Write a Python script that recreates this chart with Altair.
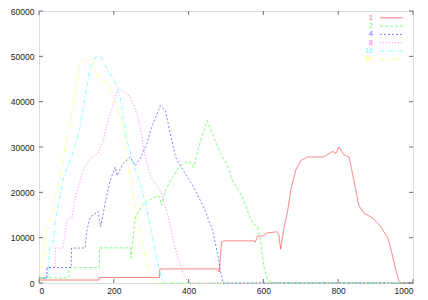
import altair as alt
import pandas as pd

series_names = ["1", "2", "4", "8", "16", "32"]
series_colors = ["#ff0000", "#00ff00", "#0000ff", "#ff00ff", "#00ffff", "#ffff00"]
series_dashes = [[1, 0], [3, 2], [2, 2], [1, 2], [4, 2, 1, 2], [4, 2, 1, 2, 1, 2]]

s1_x = [0, 160, 161, 322, 323, 478, 482, 488, 495, 574, 578, 584, 598, 611, 636, 641, 646, 654, 665, 673, 686, 700, 718, 761, 785, 794, 802, 815, 829, 842, 855, 869, 893, 914, 933, 946, 954, 962, 968, 1000]
s1_y = [660, 660, 1200, 1200, 3100, 3100, 2400, 9000, 9300, 9300, 9000, 10300, 10400, 11060, 11300, 10800, 7470, 11650, 16000, 20400, 24800, 27000, 27800, 27800, 29000, 28600, 30000, 28300, 27800, 22600, 17100, 15400, 14300, 12400, 9900, 5800, 2900, 500, 0, 0]

s2_x = [0, 80, 81, 161, 162, 244, 246, 257, 279, 300, 320, 328, 338, 358, 378, 395, 405, 413, 432, 450, 467, 485, 504, 517, 544, 557, 571, 584, 592, 601, 611, 624, 1000]
s2_y = [1100, 1100, 3400, 3400, 7750, 7750, 5500, 14300, 17600, 18500, 19300, 17100, 20400, 23500, 25900, 26600, 26700, 25500, 31400, 35800, 32200, 28600, 25900, 22600, 19000, 16000, 13200, 12500, 9450, 3600, 660, 0, 0]

s4_x = [0, 21, 22, 86, 87, 123, 128, 137, 158, 165, 177, 190, 204, 209, 225, 244, 257, 271, 289, 298, 324, 338, 351, 365, 378, 413, 440, 464, 477, 485, 492, 1000]
s4_y = [1100, 1100, 3400, 3400, 7700, 7700, 11600, 14600, 15800, 12400, 17600, 22600, 25600, 23700, 26400, 27800, 25900, 27500, 30800, 33600, 39100, 38000, 33000, 27800, 25900, 21200, 16800, 11650, 6600, 2900, 0, 0]

s8_x = [0, 20, 21, 43, 44, 64, 75, 88, 97, 118, 137, 158, 164, 172, 182, 196, 212, 231, 244, 262, 271, 279, 298, 324, 346, 359, 373, 386, 399, 1000]
s8_y = [1100, 1100, 3400, 3400, 7700, 7700, 13800, 14300, 19000, 24800, 27500, 28600, 30000, 31400, 35200, 38800, 43100, 42000, 41000, 37300, 34400, 30000, 23400, 20400, 14600, 9450, 5050, 2200, 0, 0]

s16_x = [0, 24, 29, 38, 43, 51, 64, 83, 95, 110, 123, 137, 150, 164, 172, 182, 196, 204, 217, 225, 236, 249, 271, 289, 305, 319, 332, 1000]
s16_y = [1100, 1100, 8000, 8800, 13500, 16800, 22600, 27000, 30000, 34400, 41000, 47500, 49700, 50100, 49000, 47200, 45300, 44200, 41000, 36500, 31400, 27000, 22000, 16000, 9450, 3600, 0, 0]

s32_x = [0, 5, 11, 21, 35, 48, 62, 70, 83, 97, 110, 118, 128, 142, 155, 164, 177, 190, 209, 222, 231, 239, 252, 265, 279, 292, 311, 1000]
s32_y = [500, 1100, 5800, 12400, 14600, 20400, 25600, 30500, 35200, 41800, 48300, 49400, 49000, 49400, 46100, 44200, 44600, 42800, 38800, 35800, 31400, 25600, 19800, 13200, 7250, 2900, 0, 0]

x_ticks = [0, 200, 400, 600, 800, 1000]
y_ticks = [0, 10000, 20000, 30000, 40000, 50000, 60000]

all_x = [s1_x, s2_x, s4_x, s8_x, s16_x, s32_x]
all_y = [s1_y, s2_y, s4_y, s8_y, s16_y, s32_y]

rows = []
for name, xs, ys in zip(series_names, all_x, all_y):
    for i, (xv, yv) in enumerate(zip(xs, ys)):
        rows.append({"series": name, "x": xv, "y": yv, "order": i})
df = pd.DataFrame(rows)

W, H = 374, 272
FONT = "Liberation Sans"

color_scale = alt.Scale(domain=series_names, range=series_colors)
dash_scale = alt.Scale(domain=series_names, range=series_dashes)
xs_ = alt.Scale(domain=[0, 1000], nice=False)
ys_ = alt.Scale(domain=[0, 60000], nice=False)

lines = alt.Chart(df).mark_line(strokeWidth=1, opacity=0.5, interpolate="linear").encode(
    x=alt.X("x:Q", scale=xs_, axis=alt.Axis(values=x_ticks, title=None, ticks=False, grid=False,
                                             domain=False, labelFont=FONT, labelFontSize=8.5,
                                             labelColor="#222", labelPadding=3, format="d")),
    y=alt.Y("y:Q", scale=ys_, axis=alt.Axis(values=y_ticks, title=None, ticks=False, grid=False,
                                             domain=False, labelFont=FONT, labelFontSize=8.5,
                                             labelColor="#222", labelPadding=5, format="d")),
    color=alt.Color("series:N", scale=color_scale, legend=None),
    strokeDash=alt.StrokeDash("series:N", scale=dash_scale, legend=None),
    detail="series:N",
    order="order:Q",
)

xt = pd.DataFrame({"v": x_ticks})
yt = pd.DataFrame({"v": y_ticks})
tick_color = "#707070"
xb = alt.Chart(xt).mark_rule(color=tick_color).encode(x="v:Q", y=alt.value(H), y2=alt.value(H - 4))
xtp = alt.Chart(xt).mark_rule(color=tick_color).encode(x="v:Q", y=alt.value(0), y2=alt.value(4))
yl = alt.Chart(yt).mark_rule(color=tick_color).encode(y="v:Q", x=alt.value(0), x2=alt.value(4))
yr = alt.Chart(yt).mark_rule(color=tick_color).encode(y="v:Q", x=alt.value(W - 4), x2=alt.value(W))

leg = pd.DataFrame({"series": series_names, "idx": list(range(len(series_names)))})
leg_base = alt.Chart(leg).transform_calculate(ly="6.8 + datum.idx * 8.3")
leg_text = leg_base.mark_text(align="right", baseline="middle", font=FONT, fontSize=7.5, opacity=0.6).encode(
    x=alt.value(334),
    y=alt.Y("ly:Q", scale=None, axis=None),
    text="series:N",
    color=alt.Color("series:N", scale=color_scale, legend=None),
)
leg_line = leg_base.mark_rule(strokeWidth=1, opacity=0.5).encode(
    x=alt.value(341), x2=alt.value(364),
    y=alt.Y("ly:Q", scale=None, axis=None),
    color=alt.Color("series:N", scale=color_scale, legend=None),
    strokeDash=alt.StrokeDash("series:N", scale=dash_scale, legend=None),
)

chart = alt.layer(lines, xb, xtp, yl, yr, leg_line, leg_text).properties(
    width=W, height=H,
    autosize=alt.AutoSizeParams(type="none"),
    padding={"left": 31, "top": 3, "right": 7, "bottom": 14},
).configure_view(stroke="#808080", strokeWidth=1).configure(background="white")

chart.save("out.html", embed_options={"renderer": "svg", "actions": False})
